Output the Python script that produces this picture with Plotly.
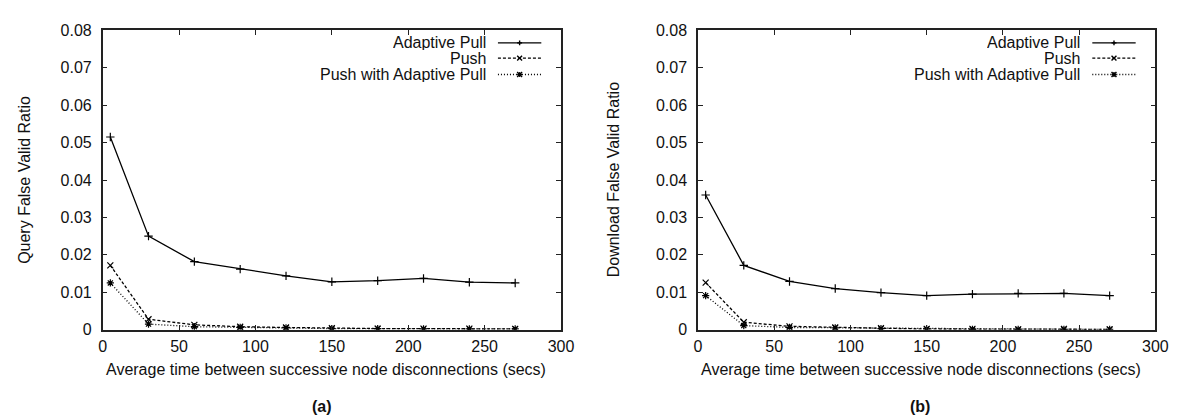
import plotly.graph_objects as go

W, H = 1187, 418

x_vals = [5, 30, 60, 90, 120, 150, 180, 210, 240, 270]

# (a) Query False Valid Ratio
a_adaptive = [0.0515, 0.0250, 0.0182, 0.0162, 0.0144, 0.0128, 0.0131, 0.0137, 0.0127, 0.0125]
a_push = [0.0172, 0.0028, 0.0013, 0.0008, 0.0006, 0.0004, 0.0003, 0.0003, 0.0003, 0.0002]
a_pwap = [0.0125, 0.0015, 0.0008, 0.0006, 0.0005, 0.0003, 0.0003, 0.0002, 0.0002, 0.0002]

# (b) Download False Valid Ratio
b_adaptive = [0.0360, 0.0172, 0.0129, 0.0110, 0.0099, 0.0091, 0.0095, 0.0097, 0.0097, 0.0091]
b_push = [0.0126, 0.0020, 0.0009, 0.0006, 0.0004, 0.0002, 0.0002, 0.0001, 0.0002, 0.0001]
b_pwap = [0.0091, 0.0011, 0.0006, 0.0005, 0.0003, 0.0002, 0.0001, 0.0001, 0.0001, 0.0001]

series_names = ["Adaptive Pull", "Push", "Push with Adaptive Pull"]
y_titles = ["Query False Valid Ratio", "Download False Valid Ratio"]
captions = ["(a)", "(b)"]
x_title = "Average time between successive node disconnections (secs)"

FONT = "Liberation Sans, Arial, sans-serif"
styles = [
    dict(dash="solid", symbol="cross-thin-open"),
    dict(dash="3px,2px", symbol="x-thin-open"),
    dict(dash="1px,2px", symbol="asterisk-open"),
]

def px(x):
    return x / W

def py(y):
    return 1 - y / H

fig = go.Figure()

panels = [
    dict(data=[a_adaptive, a_push, a_pwap], xa="x", ya="y", left=92, right=557),
    dict(data=[b_adaptive, b_push, b_pwap], xa="x2", ya="y2", left=696, right=1160),
]
top, bottom = 15, 327

for pi, p in enumerate(panels):
    for si, ys in enumerate(p["data"]):
        st = styles[si]
        fig.add_trace(go.Scatter(
            x=x_vals, y=ys, mode="lines+markers", name=series_names[si],
            xaxis=p["xa"], yaxis=p["ya"], showlegend=False,
            line=dict(color="black", width=1.3, dash=st["dash"]),
            marker=dict(symbol=st["symbol"], size=6, color="black",
                        line=dict(color="black", width=1.2)),
        ))

axis_common = dict(
    showline=True, mirror="ticks", ticks="inside", ticklen=5,
    linecolor="#222", linewidth=1.5, tickcolor="#222", tickwidth=1.2,
    showgrid=False, zeroline=False,
    tickfont=dict(family=FONT, size=16, color="#111"),
)

layout = dict(
    width=W, height=H, margin=dict(l=0, r=0, t=0, b=0),
    paper_bgcolor="white", plot_bgcolor="white", showlegend=False,
    font=dict(family=FONT, size=16, color="#111"),
)
for pi, p in enumerate(panels):
    sx = "" if pi == 0 else "2"
    layout["xaxis" + sx] = dict(
        axis_common, domain=[px(p["left"]), px(p["right"])], range=[0, 300],
        tickvals=[0, 50, 100, 150, 200, 250, 300], anchor="y" + sx,
        ticklabelstandoff=1,
    )
    layout["yaxis" + sx] = dict(
        axis_common, domain=[py(bottom), py(top)], range=[0, 0.08],
        tickvals=[0, 0.01, 0.02, 0.03, 0.04, 0.05, 0.06, 0.07, 0.08],
        ticktext=["0", "0.01", "0.02", "0.03", "0.04", "0.05", "0.06", "0.07", "0.08"],
        anchor="x" + sx, ticklabelstandoff=6,
    )
fig.update_layout(**layout)

annotations = []
shapes = []
ytitle_x = [12, 610]
caption_x = [315, 921]
for pi, p in enumerate(panels):
    cx = (p["left"] + p["right"]) / 2
    annotations.append(dict(
        x=px(ytitle_x[pi]), y=py((top + bottom) / 2), xref="paper", yref="paper",
        text=y_titles[pi], textangle=-90, showarrow=False,
        font=dict(family=FONT, size=16, color="#111"),
        xanchor="center", yanchor="middle"))
    annotations.append(dict(
        x=px(cx - 6), y=py(369), xref="paper", yref="paper",
        text=x_title, showarrow=False,
        font=dict(family=FONT, size=16, color="#111"),
        xanchor="center", yanchor="middle"))
    annotations.append(dict(
        x=px(caption_x[pi]), y=py(407), xref="paper", yref="paper",
        text="<b>" + captions[pi] + "</b>", showarrow=False,
        font=dict(family=FONT, size=16, color="#111"),
        xanchor="center", yanchor="middle"))

    # legend (gnuplot style: text on left, sample on right)
    rows_y = [28, 44, 61]
    text_right = p["right"] - 75
    l0, l1 = p["right"] - 64, p["right"] - 20
    mc = (l0 + l1) / 2
    for si in range(3):
        yy = rows_y[si]
        annotations.append(dict(
            x=px(text_right), y=py(yy), xref="paper", yref="paper",
            text=series_names[si], showarrow=False, height=15, borderpad=0,
            font=dict(family=FONT, size=16, color="#111"),
            xanchor="right", yanchor="middle", valign="middle"))
        shapes.append(dict(
            type="line", xref="paper", yref="paper",
            x0=px(l0), x1=px(l1), y0=py(yy), y1=py(yy),
            line=dict(color="black", width=1.3, dash=styles[si]["dash"])))
        s = 2.5
        segs = []
        if si in (0, 2):
            segs += [((mc - s, yy), (mc + s, yy)), ((mc, yy - s), (mc, yy + s))]
        if si in (1, 2):
            segs += [((mc - s, yy - s), (mc + s, yy + s)), ((mc - s, yy + s), (mc + s, yy - s))]
        for (xa, ya), (xb, yb) in segs:
            shapes.append(dict(
                type="line", xref="paper", yref="paper",
                x0=px(xa), x1=px(xb), y0=py(ya), y1=py(yb),
                line=dict(color="black", width=1.4)))

fig.update_layout(annotations=annotations, shapes=shapes)
fig.write_html("out.html")
